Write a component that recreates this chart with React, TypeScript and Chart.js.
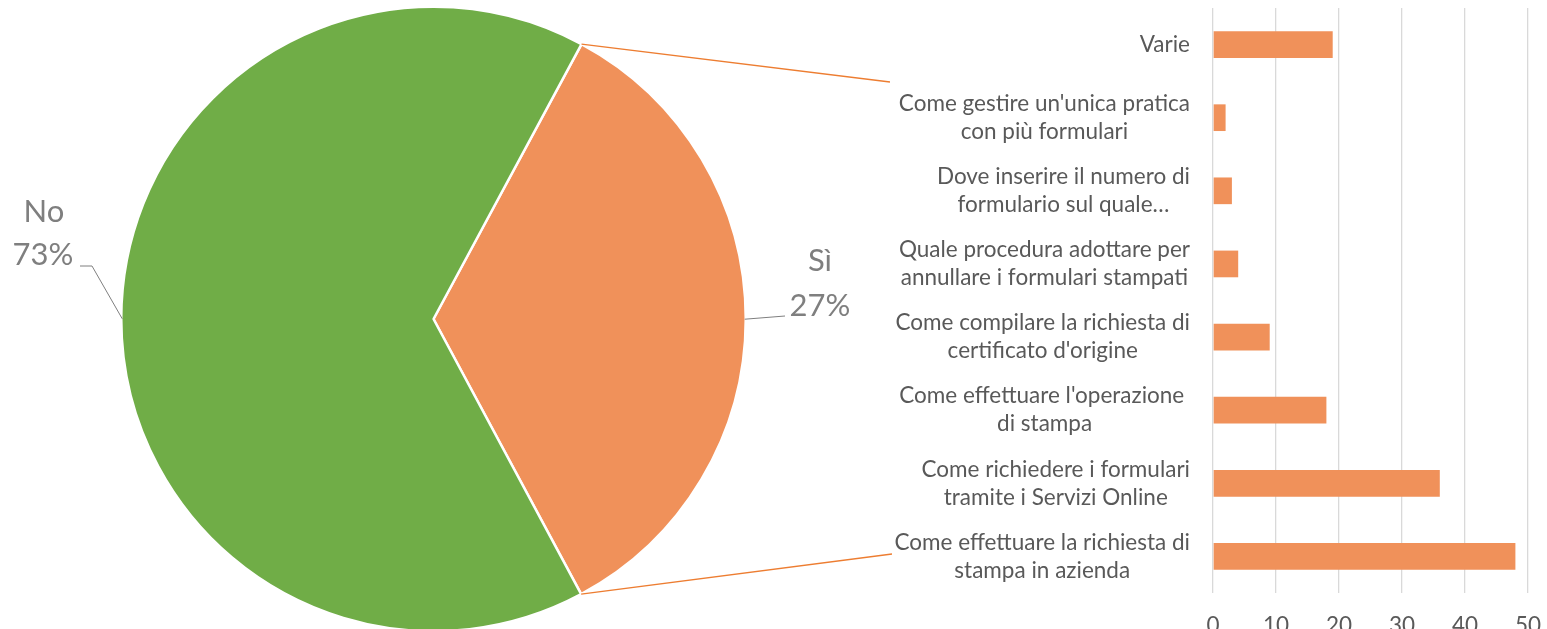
import React, { useEffect, useRef } from "react";
import { Chart, registerables } from "chart.js";

Chart.register(...registerables);

// ---- data ----
const pieCategories = ["Sì", "No"];
// angular shares of the slices as drawn in the picture
const pieShares = [34.3, 65.7];
// percentages printed on the labels
const pieLabelPercents = ["27%", "73%"];
const pieColors = ["#F0915A", "#70AD47"];

const barCategories: string[][] = [
  ["Varie"],
  ["Come gestire un'unica pratica", "con più formulari"],
  ["Dove inserire il numero di", "formulario sul quale…"],
  ["Quale procedura adottare per", "annullare i formulari stampati"],
  ["Come compilare la richiesta di", "certificato d'origine"],
  ["Come effettuare l'operazione ", "di stampa"],
  ["Come richiedere i formulari", "tramite i Servizi Online"],
  ["Come effettuare la richiesta di", "stampa in azienda"],
];
const barValues = [19, 2, 3, 4, 9, 18, 36, 48];
const xTicks = [0, 10, 20, 30, 40, 50];

const W = 1547;
const H = 629;
const FONT = "Lato, 'Open Sans', sans-serif";

const pieDecor = {
  id: "pieDecor",
  afterDraw(chart: any) {
    const ctx = chart.ctx as CanvasRenderingContext2D;
    const meta = chart.getDatasetMeta(0);
    const si = meta.data[0] as any;
    const no = meta.data[1] as any;
    const cx = si.x;
    const cy = si.y;
    const r = si.outerRadius;
    ctx.save();
    // connector lines to the bar chart
    ctx.strokeStyle = "#ED7D31";
    ctx.lineWidth = 1.3;
    const p1x = cx + r * Math.cos(si.startAngle);
    const p1y = cy + r * Math.sin(si.startAngle);
    const p2x = cx + r * Math.cos(si.endAngle);
    const p2y = cy + r * Math.sin(si.endAngle);
    ctx.beginPath();
    ctx.moveTo(p1x, p1y);
    ctx.lineTo(890, 82);
    ctx.moveTo(p2x, p2y);
    ctx.lineTo(892, 554);
    ctx.stroke();

    // label leader lines
    ctx.strokeStyle = "#7F7F7F";
    ctx.lineWidth = 1;
    const noMid = (no.startAngle + no.endAngle) / 2;
    const nx = cx + (r - 1) * Math.cos(noMid);
    const ny = cy + (r - 1) * Math.sin(noMid);
    ctx.beginPath();
    ctx.moveTo(80, 266);
    ctx.lineTo(92, 266);
    ctx.lineTo(nx, ny);
    ctx.stroke();
    const siMid = (si.startAngle + si.endAngle) / 2;
    const sx = cx + (r - 1) * Math.cos(siMid);
    const sy = cy + (r - 1) * Math.sin(siMid);
    ctx.beginPath();
    ctx.moveTo(sx, sy);
    ctx.lineTo(785, 316);
    ctx.stroke();

    // labels
    ctx.fillStyle = "#7F7F7F";
    ctx.font = `31px ${FONT}`;
    ctx.textAlign = "center";
    ctx.textBaseline = "alphabetic";
    ctx.fillText(pieCategories[1], 44, 222);
    ctx.fillText(pieLabelPercents[1], 43, 265);
    ctx.fillText(pieCategories[0], 820, 271);
    ctx.fillText(pieLabelPercents[0], 820, 316);
    ctx.restore();
  },
};

const barDecor = {
  id: "barDecor",
  afterDraw(chart: any) {
    const ctx = chart.ctx as CanvasRenderingContext2D;
    const yScale = chart.scales.y;
    const xScale = chart.scales.x;
    const area = chart.chartArea;
    ctx.save();
    ctx.fillStyle = "#595959";
    ctx.font = `22.5px ${FONT}`;
    ctx.textBaseline = "middle";
    ctx.textAlign = "center";
    const lh = 28;
    barCategories.forEach((lines, i) => {
      const y = yScale.getPixelForValue(i);
      const maxW = Math.max(...lines.map((l) => ctx.measureText(l).width));
      const bx = area.left - 23 - maxW / 2;
      lines.forEach((l, j) => {
        ctx.fillText(l, bx, y + (j - (lines.length - 1) / 2) * lh);
      });
    });
    ctx.textBaseline = "alphabetic";
    xTicks.forEach((v) => {
      ctx.fillText(String(v), xScale.getPixelForValue(v), 633);
    });
    ctx.restore();
  },
};

export default function App() {
  const pieRef = useRef<HTMLCanvasElement | null>(null);
  const barRef = useRef<HTMLCanvasElement | null>(null);

  useEffect(() => {
    const pie = new Chart(pieRef.current as HTMLCanvasElement, {
      type: "pie",
      data: {
        labels: pieCategories,
        datasets: [
          {
            data: pieShares,
            backgroundColor: pieColors,
            borderColor: "#FFFFFF",
            borderWidth: 2.5,
          },
        ],
      },
      options: {
        animation: false,
        responsive: false,
        rotation: 28.3,
        layout: { padding: { top: 5.5, bottom: 27.5, left: 120, right: 800 } },
        plugins: { legend: { display: false }, tooltip: { enabled: false } },
      },
      plugins: [pieDecor],
    } as any);

    const bar = new Chart(barRef.current as HTMLCanvasElement, {
      type: "bar",
      data: {
        labels: barCategories.map((l) => l.join(" ")),
        datasets: [
          {
            data: barValues,
            backgroundColor: "#F0915A",
            barPercentage: 0.365,
            categoryPercentage: 1,
          },
        ],
      },
      options: {
        indexAxis: "y",
        animation: false,
        responsive: false,
        layout: { padding: { top: 8, bottom: 36, left: 1213, right: 19 } },
        scales: {
          x: {
            min: 0,
            max: 50,
            ticks: { stepSize: 10, display: false },
            grid: { color: "#D9D9D9", lineWidth: 1.3, drawTicks: false },
            border: { display: false },
          },
          y: { display: false },
        },
        plugins: { legend: { display: false }, tooltip: { enabled: false } },
      },
      plugins: [barDecor],
    } as any);

    return () => {
      pie.destroy();
      bar.destroy();
    };
  }, []);

  return (
    <div
      style={{
        position: "fixed",
        left: 0,
        top: 0,
        width: W,
        height: H,
        overflow: "hidden",
        background: "#FFFFFF",
      }}
    >
      <canvas
        ref={barRef}
        width={W}
        height={H}
        style={{ position: "absolute", left: 0, top: 0, width: W, height: H }}
      />
      <canvas
        ref={pieRef}
        width={W}
        height={660}
        style={{ position: "absolute", left: 0, top: 0, width: W, height: 660 }}
      />
    </div>
  );
}
